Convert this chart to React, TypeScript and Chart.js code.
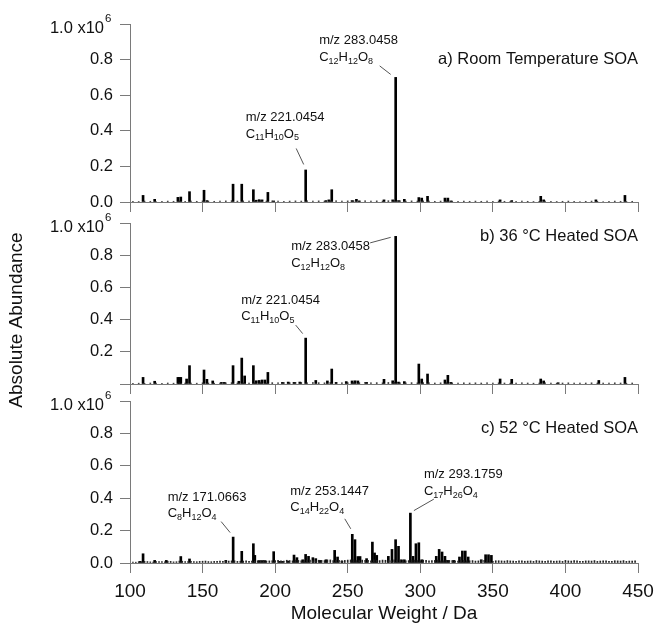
import { useEffect, useRef } from 'react';
import { Chart, registerables } from 'chart.js';

Chart.register(...registerables);

const FONT = '"Liberation Sans", Arial, Helvetica, sans-serif';
const INK = '#111111';
const AXIS = '#7a7a7a';
const WIDTH = 654;
const HEIGHT = 625;

// Shared mass axis (Da) and abundance axis (units of 10^6 counts)
const X_MIN = 100;
const X_MAX = 450;
const X_STEP = 50;
const Y_MAX = 1.0;
const Y_STEP = 0.2;

// a) Room temperature SOA — main peaks
const massA = [109, 117, 133, 135, 141, 151, 153, 171, 177, 185, 187, 189, 191, 195, 199, 221.0454, 235, 237, 239, 253, 256, 258, 275, 281, 283.0458, 285, 289, 299, 301, 305, 317, 319, 321, 355, 363, 383, 385, 421, 441];
const abundA = [0.037, 0.015, 0.026, 0.028, 0.058, 0.066, 0.008, 0.100, 0.100, 0.069, 0.010, 0.013, 0.012, 0.054, 0.006, 0.180, 0.008, 0.012, 0.069, 0.008, 0.015, 0.006, 0.012, 0.012, 0.700, 0.008, 0.015, 0.025, 0.022, 0.032, 0.022, 0.022, 0.006, 0.012, 0.008, 0.032, 0.012, 0.012, 0.037];

// b) 36 °C heated SOA — main peaks
const massB = [109, 117, 133, 134, 135, 139, 141, 151, 153, 157, 163, 165, 171, 175, 177, 179, 185, 187, 189, 191, 193, 195, 205, 209, 213, 217, 221.0454, 228, 236, 239, 242, 249, 253, 255, 257, 263, 275, 281, 283.0458, 285, 289, 299, 301, 305, 317, 319, 321, 355, 363, 383, 385, 395, 423, 441];
const abundB = [0.041, 0.017, 0.041, 0.041, 0.041, 0.031, 0.114, 0.087, 0.029, 0.019, 0.010, 0.010, 0.114, 0.017, 0.161, 0.050, 0.114, 0.020, 0.022, 0.025, 0.025, 0.072, 0.010, 0.012, 0.010, 0.012, 0.285, 0.022, 0.019, 0.093, 0.010, 0.015, 0.019, 0.020, 0.019, 0.010, 0.029, 0.020, 0.917, 0.012, 0.015, 0.124, 0.031, 0.062, 0.025, 0.054, 0.010, 0.031, 0.029, 0.031, 0.019, 0.008, 0.022, 0.041];

// c) 52 °C heated SOA — main peaks
const massC = [107, 109, 117, 125, 135, 141, 166, 171.0663, 177, 185, 186, 189, 191, 193, 199, 203, 205, 209, 213, 215, 219, 221, 223, 226, 228, 231, 235, 241, 243, 246, 253.1447, 255, 257, 258.5, 263, 267, 268.5, 270, 278, 280.5, 283, 285, 287, 289, 293.1759, 295, 297, 299, 301, 311, 313, 315, 317, 319, 323, 327, 329, 331, 333, 342, 345, 347, 349];
const abundC = [0.010, 0.057, 0.016, 0.016, 0.040, 0.025, 0.016, 0.160, 0.072, 0.119, 0.047, 0.015, 0.015, 0.015, 0.070, 0.010, 0.010, 0.012, 0.049, 0.033, 0.020, 0.053, 0.041, 0.033, 0.027, 0.016, 0.020, 0.078, 0.037, 0.012, 0.177, 0.144, 0.040, 0.040, 0.027, 0.129, 0.062, 0.047, 0.041, 0.084, 0.144, 0.103, 0.020, 0.020, 0.308, 0.041, 0.119, 0.125, 0.020, 0.041, 0.084, 0.068, 0.041, 0.016, 0.016, 0.037, 0.074, 0.074, 0.037, 0.020, 0.051, 0.051, 0.047];

// Low-level background signal
const noiseMass = [102, 106, 110, 114, 118, 122, 126, 130, 134, 138, 142, 146, 150, 154, 158, 162, 166, 170, 174, 178, 182, 186, 190, 194, 198, 202, 206, 210, 214, 218, 222, 226, 230, 234, 238, 242, 246, 250, 254, 258, 262, 266, 270, 274, 278, 282, 286, 290, 294, 298, 302, 306, 310, 314, 318, 322, 326, 330, 334, 338, 342, 346, 350, 354, 358, 362, 366, 370, 374, 378, 382, 386, 390, 394, 398, 402, 406, 410, 414, 418, 422, 426, 430, 434, 438, 442, 446];
const noiseMassAlt = [104, 108, 112, 116, 120, 124, 128, 132, 136, 140, 144, 148, 152, 156, 160, 164, 168, 172, 176, 180, 184, 188, 192, 196, 200, 204, 208, 212, 216, 220, 224, 228, 232, 236, 240, 244, 248, 252, 256, 260, 264, 268, 272, 276, 280, 284, 288, 292, 296, 300, 304, 308, 312, 316, 320, 324, 328, 332, 336, 340, 344, 348, 352, 356, 360, 364, 368, 372, 376, 380, 384, 388, 392, 396, 400, 404, 408, 412, 416, 420, 424, 428, 432, 436, 440, 444, 448];
const noiseA = [0.004, 0.003, 0.005, 0.004, 0.003, 0.004, 0.005, 0.004, 0.006, 0.004, 0.005, 0.004, 0.006, 0.005, 0.004, 0.005, 0.006, 0.007, 0.005, 0.006, 0.005, 0.006, 0.008, 0.005, 0.006, 0.005, 0.004, 0.005, 0.006, 0.005, 0.006, 0.005, 0.006, 0.005, 0.007, 0.006, 0.005, 0.006, 0.007, 0.005, 0.006, 0.005, 0.006, 0.005, 0.007, 0.008, 0.006, 0.005, 0.006, 0.005, 0.006, 0.005, 0.004, 0.005, 0.006, 0.005, 0.004, 0.005, 0.004, 0.005, 0.004, 0.005, 0.004, 0.005, 0.004, 0.003, 0.004, 0.005, 0.004, 0.003, 0.004, 0.005, 0.004, 0.003, 0.004, 0.005, 0.004, 0.003, 0.004, 0.005, 0.004, 0.003, 0.004, 0.005, 0.004, 0.003, 0.004];
const noiseB = [0.004, 0.005, 0.004, 0.006, 0.005, 0.004, 0.006, 0.005, 0.007, 0.005, 0.006, 0.005, 0.007, 0.006, 0.005, 0.006, 0.007, 0.008, 0.006, 0.007, 0.006, 0.007, 0.009, 0.006, 0.008, 0.007, 0.009, 0.008, 0.010, 0.009, 0.008, 0.009, 0.008, 0.007, 0.009, 0.008, 0.007, 0.008, 0.009, 0.008, 0.010, 0.007, 0.008, 0.007, 0.009, 0.010, 0.008, 0.007, 0.008, 0.007, 0.008, 0.007, 0.006, 0.007, 0.008, 0.007, 0.006, 0.007, 0.006, 0.007, 0.006, 0.007, 0.006, 0.007, 0.006, 0.005, 0.006, 0.007, 0.006, 0.005, 0.006, 0.007, 0.006, 0.005, 0.006, 0.007, 0.006, 0.005, 0.006, 0.007, 0.006, 0.005, 0.006, 0.007, 0.006, 0.005, 0.006];
const noiseC = [0.006, 0.008, 0.010, 0.007, 0.009, 0.008, 0.011, 0.007, 0.012, 0.009, 0.010, 0.008, 0.011, 0.009, 0.010, 0.012, 0.011, 0.013, 0.010, 0.012, 0.011, 0.013, 0.015, 0.012, 0.014, 0.016, 0.012, 0.015, 0.018, 0.014, 0.016, 0.013, 0.017, 0.015, 0.019, 0.016, 0.014, 0.018, 0.020, 0.015, 0.017, 0.014, 0.016, 0.018, 0.015, 0.019, 0.016, 0.014, 0.017, 0.015, 0.018, 0.014, 0.016, 0.013, 0.017, 0.015, 0.012, 0.016, 0.014, 0.012, 0.015, 0.013, 0.011, 0.014, 0.012, 0.013, 0.011, 0.014, 0.012, 0.010, 0.013, 0.011, 0.014, 0.012, 0.010, 0.013, 0.015, 0.011, 0.013, 0.012, 0.010, 0.013, 0.011, 0.014, 0.012, 0.010, 0.012];
const noiseCAlt = [0.005, 0.007, 0.009, 0.006, 0.008, 0.007, 0.010, 0.008, 0.011, 0.008, 0.009, 0.010, 0.012, 0.008, 0.011, 0.010, 0.012, 0.014, 0.011, 0.013, 0.012, 0.014, 0.016, 0.013, 0.015, 0.014, 0.017, 0.013, 0.016, 0.015, 0.018, 0.014, 0.016, 0.019, 0.015, 0.017, 0.016, 0.019, 0.015, 0.018, 0.016, 0.019, 0.015, 0.017, 0.014, 0.018, 0.016, 0.015, 0.018, 0.014, 0.017, 0.015, 0.018, 0.014, 0.016, 0.013, 0.017, 0.014, 0.015, 0.013, 0.016, 0.012, 0.014, 0.013, 0.015, 0.012, 0.014, 0.011, 0.013, 0.015, 0.012, 0.014, 0.011, 0.013, 0.016, 0.012, 0.014, 0.011, 0.013, 0.015, 0.012, 0.014, 0.011, 0.013, 0.015, 0.012, 0.013];

// Peak assignments
const notesA = [
  { mass: 221.0454, mz: 'm/z 221.0454', formula: 'C11H10O5' },
  { mass: 283.0458, mz: 'm/z 283.0458', formula: 'C12H12O8' },
];
const notesB = [
  { mass: 221.0454, mz: 'm/z 221.0454', formula: 'C11H10O5' },
  { mass: 283.0458, mz: 'm/z 283.0458', formula: 'C12H12O8' },
];
const notesC = [
  { mass: 171.0663, mz: 'm/z 171.0663', formula: 'C8H12O4' },
  { mass: 253.1447, mz: 'm/z 253.1447', formula: 'C14H22O4' },
  { mass: 293.1759, mz: 'm/z 293.1759', formula: 'C17H26O4' },
];

const panelTitles = ['a) Room Temperature SOA', 'b) 36 °C Heated SOA', 'c) 52 °C Heated SOA'];

type Note = { mass: number; mz: string; formula: string };
type Callout = { tx: number; ty: number; lx1: number; ly1: number; lx2: number; ly2: number };

interface Panel {
  masses: number[];
  values: number[];
  noise: { masses: number[]; values: number[] }[];
  notes: Note[];
  callouts: Callout[];
  title: string;
  titleDy: number;
  padTop: number;
  padBottom: number;
  axisHeight: number;
  showXLabels: boolean;
  showZero: boolean;
  yTitle: boolean;
}

const PANELS: Panel[] = [
  {
    masses: massA, values: abundA,
    noise: [{ masses: noiseMass, values: noiseA }],
    notes: notesA,
    callouts: [
      { tx: -60, ty: -52.5, lx1: -9.5, ly1: -21.5, lx2: -2, ly2: -5.5 },
      { tx: -76.5, ty: -36.5, lx1: -16, ly1: -11.5, lx2: -5, ly2: -3 },
    ],
    title: panelTitles[0], titleDy: 35.5,
    padTop: 24, padBottom: 411, axisHeight: 12,
    showXLabels: false, showZero: true, yTitle: true,
  },
  {
    masses: massB, values: abundB,
    noise: [{ masses: noiseMass, values: noiseB }],
    notes: notesB,
    callouts: [
      { tx: -64.5, ty: -38, lx1: -10, ly1: -13, lx2: -3, ly2: -4.5 },
      { tx: -104.5, ty: 10.5, lx1: -25.5, ly1: 6.5, lx2: -5, ly2: 1 },
    ],
    title: panelTitles[1], titleDy: 13.5,
    padTop: 223, padBottom: 229, axisHeight: 12,
    showXLabels: false, showZero: false, yTitle: false,
  },
  {
    masses: massC, values: abundC,
    noise: [{ masses: noiseMass, values: noiseC }, { masses: noiseMassAlt, values: noiseCAlt }],
    notes: notesC,
    callouts: [
      { tx: -65.5, ty: -40, lx1: -12, ly1: -15.5, lx2: -3, ly2: -4.5 },
      { tx: -62, ty: -43, lx1: -7.5, ly1: -15.5, lx2: -1.5, ly2: -5.5 },
      { tx: 13.5, ty: -38.5, lx1: 23.5, ly1: -14, lx2: 3.5, ly2: -2.5 },
    ],
    title: panelTitles[2], titleDy: 27.5,
    padTop: 401, padBottom: 0, axisHeight: 62,
    showXLabels: true, showZero: true, yTitle: false,
  },
];

function drawFormula(ctx: CanvasRenderingContext2D, formula: string, x0: number, y0: number) {
  const parts = formula.match(/[A-Z][a-z]?|\d+/g) || [];
  let cx = x0;
  for (const part of parts) {
    const isIndex = /^\d+$/.test(part);
    ctx.font = isIndex ? `9px ${FONT}` : `13px ${FONT}`;
    ctx.fillText(part, cx, isIndex ? y0 + 4 : y0);
    cx += ctx.measureText(part).width;
  }
}

function makeDecor(panel: Panel) {
  return {
    id: 'panelDecor',
    afterDraw(chart: Chart) {
      const { ctx, chartArea } = chart;
      const x = chart.scales.x;
      const y = chart.scales.y;
      ctx.save();
      ctx.fillStyle = INK;

      // top tick label with power-of-ten multiplier
      const yTop = y.getPixelForValue(Y_MAX);
      ctx.textBaseline = 'middle';
      ctx.textAlign = 'right';
      ctx.font = `16.5px ${FONT}`;
      ctx.fillText('1.0 x10', chartArea.left - 26, yTop + 4);
      ctx.textAlign = 'left';
      ctx.font = `11.5px ${FONT}`;
      ctx.fillText('6', chartArea.left - 25, yTop - 5);

      // panel title
      ctx.textAlign = 'right';
      ctx.font = `16.5px ${FONT}`;
      ctx.fillText(panel.title, chartArea.right, chartArea.top + panel.titleDy);

      // peak callouts
      panel.notes.forEach((note, i) => {
        const c = panel.callouts[i];
        const v = panel.values[panel.masses.indexOf(note.mass)];
        const px = x.getPixelForValue(note.mass);
        const py = y.getPixelForValue(v);
        ctx.textAlign = 'left';
        ctx.textBaseline = 'middle';
        ctx.fillStyle = INK;
        ctx.font = `13px ${FONT}`;
        ctx.fillText(note.mz, px + c.tx, py + c.ty);
        drawFormula(ctx, note.formula, px + c.tx, py + c.ty + 16.5);
        ctx.strokeStyle = '#555555';
        ctx.lineWidth = 1;
        ctx.beginPath();
        ctx.moveTo(px + c.lx1, py + c.ly1);
        ctx.lineTo(px + c.lx2, py + c.ly2);
        ctx.stroke();
      });

      if (panel.yTitle) {
        ctx.translate(17, 320);
        ctx.rotate(-Math.PI / 2);
        ctx.textAlign = 'center';
        ctx.textBaseline = 'middle';
        ctx.fillStyle = INK;
        ctx.font = `19px ${FONT}`;
        ctx.fillText('Absolute Abundance', 0, 0);
      }
      ctx.restore();
    },
  };
}

function buildChart(canvas: HTMLCanvasElement, panel: Panel) {
  const toPoints = (ms: number[], vs: number[]) => ms.map((m, i) => ({ x: m, y: vs[i] }));
  const datasets: any[] = [
    ...panel.noise.map((n) => ({
      data: toPoints(n.masses, n.values),
      backgroundColor: '#222222',
      barThickness: 1,
      grouped: false,
      borderWidth: 0,
    })),
    {
      data: toPoints(panel.masses, panel.values),
      backgroundColor: '#000000',
      barThickness: 2,
      grouped: false,
      borderWidth: 0,
    },
  ];

  return new Chart(canvas, {
    type: 'bar',
    data: { datasets },
    options: {
      responsive: false,
      animation: false,
      devicePixelRatio: 1,
      events: [],
      layout: { padding: { left: 0, right: 16, top: panel.padTop, bottom: panel.padBottom } },
      plugins: { legend: { display: false }, tooltip: { enabled: false }, title: { display: false } },
      scales: {
        x: {
          type: 'linear',
          min: X_MIN,
          max: X_MAX,
          offset: false,
          grid: { offset: false, drawOnChartArea: false, drawTicks: true, tickLength: 10, color: AXIS },
          border: { color: AXIS, width: 1 },
          ticks: {
            stepSize: X_STEP,
            autoSkip: false,
            maxRotation: 0,
            padding: 7,
            color: INK,
            font: { family: FONT, size: 19 },
            callback: (v: any) => (panel.showXLabels ? String(v) : ''),
          },
          title: {
            display: panel.showXLabels,
            text: 'Molecular Weight / Da',
            color: INK,
            font: { family: FONT, size: 19 },
            padding: { top: 0, bottom: 0 },
          },
          afterFit: (s: any) => {
            s.height = panel.axisHeight;
            s.paddingLeft = 0;
            s.paddingRight = 0;
          },
        },
        y: {
          min: 0,
          max: Y_MAX,
          grid: { drawOnChartArea: false, drawTicks: true, tickLength: 10, color: AXIS },
          border: { color: AXIS, width: 1 },
          ticks: {
            stepSize: Y_STEP,
            padding: 7,
            color: INK,
            font: { family: FONT, size: 16.5 },
            callback: (v: any) => {
              const n = Number(v);
              if (Math.abs(n - Y_MAX) < 1e-6) return '';
              if (n === 0 && !panel.showZero) return '';
              return n.toFixed(1);
            },
          },
          afterFit: (s: any) => {
            s.width = 130;
            s.paddingTop = 0;
            s.paddingBottom = 0;
          },
        },
      },
    } as any,
    plugins: [makeDecor(panel)],
  });
}

export default function App() {
  const refs = useRef<(HTMLCanvasElement | null)[]>([]);

  useEffect(() => {
    const charts = PANELS.map((p, i) => buildChart(refs.current[i] as HTMLCanvasElement, p));
    return () => charts.forEach((c) => c.destroy());
  }, []);

  return (
    <div style={{ position: 'fixed', left: 0, top: 0, width: WIDTH, height: HEIGHT, background: '#ffffff' }}>
      {PANELS.map((_, i) => (
        <canvas
          key={i}
          ref={(el) => {
            refs.current[i] = el;
          }}
          width={WIDTH}
          height={HEIGHT}
          style={{ position: 'absolute', left: 0, top: 0 }}
        />
      ))}
    </div>
  );
}
